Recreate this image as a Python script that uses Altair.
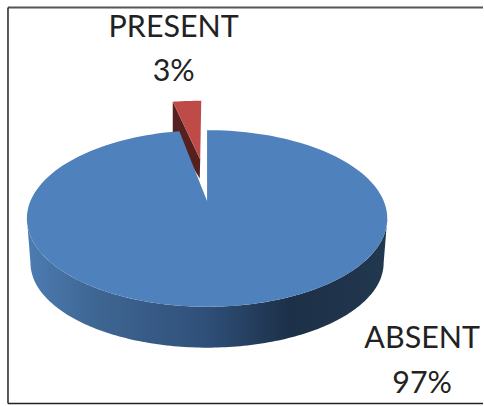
import math
import altair as alt

categories = ["ABSENT", "PRESENT"]
shares = [97, 3]

# Tilted-disc view: the pie plane is drawn with a perspective divide
TILT = 0.1977
CENTER_X, CENTER_Y = 207.5, 201.0
RADIUS_X, RADIUS_Y = 177.0, -45.3
BASE_SHRINK = 0.98
# The lower face is a slightly flatter copy of the top face
TOP_MID_Y, BASE_MID_Y, BASE_FLATTEN = 218.5, 263.0, 0.96


def project(px, py, shrink=1.0):
    w = 1 + TILT * py
    return [
        CENTER_X + shrink * RADIUS_X * px / w,
        (RADIUS_Y * py + CENTER_Y) / w,
    ]


def project_base(px, py):
    x, y = project(px, py, BASE_SHRINK)
    return [x, BASE_MID_Y + (y - TOP_MID_Y) * BASE_FLATTEN]


def rim(start_deg, stop_deg, steps=160):
    # Angles run clockwise from the far side of the disc
    for i in range(steps + 1):
        a = math.radians(start_deg + (stop_deg - start_deg) * i / steps)
        yield math.sin(a), math.cos(a)


def feature(points):
    return {
        "type": "Feature",
        "properties": {},
        "geometry": {"type": "Polygon", "coordinates": [points + [points[0]]]},
    }


absent_sweep = shares[0] / sum(shares) * 360
present_sweep = shares[1] / sum(shares) * 360

# Large slice: top face and the curved wall between the disc's widest points
widest = math.degrees(math.acos(-TILT))
absent_top = [project(0, 0)] + [project(x, y) for x, y in rim(0, absent_sweep)]
near_top = [project(x, y) for x, y in rim(widest, 360 - widest)]
near_base = [project_base(x, y) for x, y in rim(widest, 360 - widest)]
absent_wall = near_top + near_base[::-1]

# Small slice, pulled out towards the far side of the disc
OFFSET_X, OFFSET_Y = -0.043, 0.54
PRESENT_SPREAD = 1.12
present_rim = [
    project(x * PRESENT_SPREAD + OFFSET_X, y + OFFSET_Y)
    for x, y in rim(360 - present_sweep, 360, 12)
]
apex = project(OFFSET_X, OFFSET_Y)
present_top = [apex] + present_rim
left_rim = present_rim[0]
present_wall = [
    left_rim,
    apex,
    [apex[0] - 0.5, apex[1] + 19],
    [left_rim[0], left_rim[1] + 32],
]

# Pixel-space projection shared by every polygon
screen = dict(type="identity", scale=1, translate=[0, 0])


def polygon(points, **style):
    return (
        alt.Chart(alt.Data(values=[feature(points)]))
        .mark_geoshape(strokeWidth=0, **style)
        .project(**screen)
    )


wall_fill = alt.Gradient(
    gradient="linear",
    x1=0, x2=1, y1=0, y2=0,
    stops=[
        alt.GradientStop(color="#4c7cb3", offset=0),
        alt.GradientStop(color="#3f6794", offset=0.18),
        alt.GradientStop(color="#2f4f78", offset=0.5),
        alt.GradientStop(color="#1c3048", offset=0.73),
        alt.GradientStop(color="#22384f", offset=1),
    ],
)

layers = [
    polygon(present_wall, fill="#56201f"),
    polygon(present_top, fill="#be4b48"),
    polygon(absent_wall, fill=wall_fill),
    polygon(absent_top, fill="#4f81bd"),
]

# Category name and percentage for each slice
label_rows = [
    {"line": categories[0], "cx": 423, "cy": 339},
    {"line": f"{shares[0]}%", "cx": 423, "cy": 384},
    {"line": categories[1], "cx": 174, "cy": 28},
    {"line": f"{shares[1]}%", "cx": 174, "cy": 72},
]
labels = (
    alt.Chart(alt.Data(values=label_rows))
    .mark_text(font="Lato", fontSize=30.5, color="#222222", align="center", baseline="middle")
    .encode(
        x=alt.X("cx:Q", scale=None),
        y=alt.Y("cy:Q", scale=None),
        text="line:N",
    )
)


def border(width, color, **channels):
    return (
        alt.Chart(alt.Data(values=[{}]))
        .mark_rule(strokeWidth=width, color=color)
        .encode(**{name: alt.value(v) for name, v in channels.items()})
    )


# Border on three sides: it stops at the right edge of the page
frame = [
    border(2, "#555555", x=8, x2=484, y=7),
    border(1.5, "#222222", x=8, x2=484, y=404),
    border(1.5, "#222222", x=8, y=7, y2=404),
]

chart = (
    alt.layer(*layers, labels, *frame)
    .properties(width=484, height=406, padding=0, background="white")
    .configure_view(stroke=None)
)

chart.save("out.html", embed_options={"renderer": "svg", "actions": False})
